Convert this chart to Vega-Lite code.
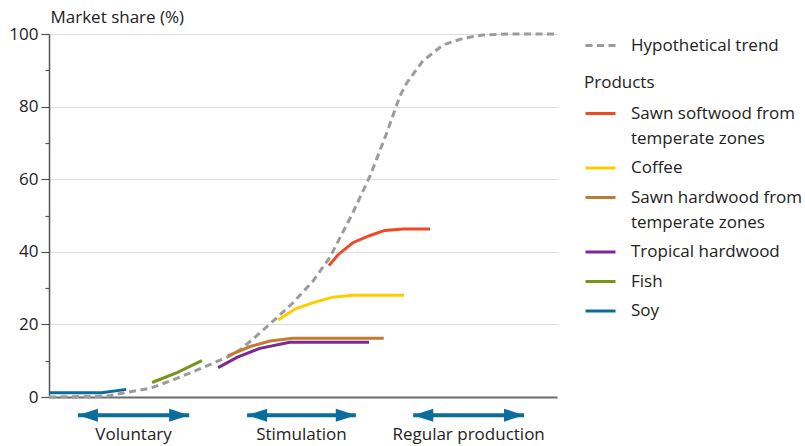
{
  "$schema": "https://vega.github.io/schema/vega-lite/v6.json",
  "width": 508,
  "height": 363,
  "autosize": "none",
  "padding": {"left": 49, "top": 34, "right": 248, "bottom": 49},
  "background": "white",
  "config": {
    "view": {"stroke": null},
    "font": "Open Sans",
    "axis": {"labelFont": "Open Sans", "titleFont": "Open Sans"},
    "legend": {"labelFont": "Open Sans", "titleFont": "Open Sans"},
    "style": {"guide-label": {"lineHeight": 25}}
  },
  "datasets": {
    "trend": [
      {"t": 0.0, "share": 0.0}, {"t": 11.4, "share": 0.2}, {"t": 14.6, "share": 1.1},
      {"t": 19.9, "share": 2.4}, {"t": 24.4, "share": 4.7}, {"t": 29.1, "share": 7.4},
      {"t": 33.1, "share": 9.8}, {"t": 35.0, "share": 10.9}, {"t": 37.6, "share": 13.0},
      {"t": 40.2, "share": 16.0}, {"t": 44.1, "share": 20.9}, {"t": 48.0, "share": 25.9},
      {"t": 52.0, "share": 32.0}, {"t": 55.3, "share": 38.5}, {"t": 59.8, "share": 50.7},
      {"t": 63.2, "share": 60.9}, {"t": 66.5, "share": 72.8}, {"t": 69.1, "share": 83.0},
      {"t": 70.5, "share": 86.7}, {"t": 73.6, "share": 92.6}, {"t": 77.6, "share": 97.0},
      {"t": 81.5, "share": 98.8}, {"t": 85.4, "share": 99.7}, {"t": 90.2, "share": 100},
      {"t": 100, "share": 100}
    ],
    "products": [
      {"product": "Soy", "t": 0.0, "share": 1.2},
      {"product": "Soy", "t": 10.4, "share": 1.2},
      {"product": "Soy", "t": 15.2, "share": 2.1},
      {"product": "Fish", "t": 20.3, "share": 4.0},
      {"product": "Fish", "t": 25.2, "share": 6.7},
      {"product": "Fish", "t": 30.1, "share": 10.0},
      {"product": "Tropical hardwood", "t": 33.3, "share": 8.1},
      {"product": "Tropical hardwood", "t": 37.0, "share": 10.9},
      {"product": "Tropical hardwood", "t": 41.5, "share": 13.4},
      {"product": "Tropical hardwood", "t": 47.4, "share": 15.1},
      {"product": "Tropical hardwood", "t": 63.0, "share": 15.1},
      {"product": "Sawn hardwood from temperate zones", "t": 35.2, "share": 11.3},
      {"product": "Sawn hardwood from temperate zones", "t": 39.6, "share": 13.9},
      {"product": "Sawn hardwood from temperate zones", "t": 43.5, "share": 15.4},
      {"product": "Sawn hardwood from temperate zones", "t": 48.0, "share": 16.2},
      {"product": "Sawn hardwood from temperate zones", "t": 65.9, "share": 16.2},
      {"product": "Coffee", "t": 45.1, "share": 21.2},
      {"product": "Coffee", "t": 48.4, "share": 24.2},
      {"product": "Coffee", "t": 52.0, "share": 26.0},
      {"product": "Coffee", "t": 55.9, "share": 27.5},
      {"product": "Coffee", "t": 59.8, "share": 28.0},
      {"product": "Coffee", "t": 69.9, "share": 28.0},
      {"product": "Sawn softwood from temperate zones", "t": 55.1, "share": 36.2},
      {"product": "Sawn softwood from temperate zones", "t": 56.9, "share": 39.2},
      {"product": "Sawn softwood from temperate zones", "t": 59.8, "share": 42.5},
      {"product": "Sawn softwood from temperate zones", "t": 63.2, "share": 44.5},
      {"product": "Sawn softwood from temperate zones", "t": 66.1, "share": 45.9},
      {"product": "Sawn softwood from temperate zones", "t": 69.7, "share": 46.3},
      {"product": "Sawn softwood from temperate zones", "t": 75.0, "share": 46.3}
    ],
    "phases": [
      {"phase": "Voluntary", "start": 5.7, "end": 27.6, "mid": 16.65},
      {"phase": "Stimulation", "start": 39.0, "end": 60.4, "mid": 49.7},
      {"phase": "Regular production", "start": 71.7, "end": 93.5, "mid": 82.6}
    ]
  },
  "layer": [
    {
      "data": {"name": "trend"},
      "mark": {"type": "line", "strokeWidth": 3, "strokeDash": [7, 4.5]},
      "encoding": {
        "x": {"field": "t", "type": "quantitative",
              "scale": {"domain": [0, 100], "nice": false, "zero": false},
              "axis": {"title": null, "labels": false, "ticks": false, "grid": false,
                       "domain": true, "domainColor": "#6b6b6b", "domainWidth": 2}},
        "y": {"field": "share", "type": "quantitative",
              "scale": {"domain": [0, 100], "nice": false},
              "axis": {"orient": "left", "values": [0, 20, 40, 60, 80, 100], "grid": true, "gridColor": "#dddddd",
                       "gridWidth": 1.2, "tickSize": 8, "tickColor": "#555555", "tickWidth": 1.2,
                       "domainColor": "#555555", "domainWidth": 1.5,
                       "labelFontSize": 17, "labelColor": "#222222", "labelPadding": 3,
                       "title": "Market share (%)", "titleAngle": 0, "titleAlign": "left",
                       "titleBaseline": "alphabetic", "titleX": 1, "titleY": -12,
                       "titleFontSize": 17, "titleFontWeight": "normal", "titleColor": "#222222"}},
        "color": {"field": "series", "type": "nominal", "datum": "Hypothetical trend",
                  "scale": {"domain": ["Hypothetical trend"], "range": ["#9b9b9d"]},
                  "legend": {"title": null, "orient": "none", "legendX": 535, "legendY": -5,
                             "symbolType": "stroke", "symbolSize": 900, "symbolStrokeWidth": 3,
                             "symbolDash": [7, 4.5], "labelFontSize": 17, "labelColor": "#222222",
                             "labelOffset": 14, "labelLimit": 220}}
      }
    },
    {
      "data": {"name": "products"},
      "mark": {"type": "line", "strokeWidth": 3},
      "encoding": {
        "x": {"field": "t", "type": "quantitative"},
        "y": {"field": "share", "type": "quantitative",
              "axis": {"orient": "left", "values": [10, 30, 50, 70, 90], "labels": false, "grid": false,
                       "domain": false, "tickSize": 4, "tickColor": "#555555", "tickWidth": 1.2,
                       "title": null}},
        "stroke": {"field": "product", "type": "nominal",
                   "scale": {"domain": ["Sawn softwood from temperate zones", "Coffee",
                                        "Sawn hardwood from temperate zones", "Tropical hardwood",
                                        "Fish", "Soy"],
                             "range": ["#f04a24", "#ffcc00", "#c27b32", "#7d2a8f", "#76941e", "#0b6c9e"]},
                   "legend": {"title": "Products", "orient": "none", "legendX": 535, "legendY": 41,
                              "titleFontSize": 17, "titleFontWeight": "normal", "titleColor": "#222222",
                              "titlePadding": 5,
                              "symbolType": "stroke", "symbolSize": 900, "symbolStrokeWidth": 3,
                              "labelFontSize": 17, "labelColor": "#222222", "labelOffset": 14,
                              "labelLimit": 220,
                              "rowPadding": 4.5, "labelBaseline": "middle",
                              "labelExpr": "split(replace(datum.label, 'from ', 'from|'), '|')"}}
      }
    },
    {
      "data": {"name": "phases"},
      "mark": {"type": "rule", "strokeWidth": 4, "color": "#0b6c9e"},
      "encoding": {
        "x": {"field": "start", "type": "quantitative"},
        "x2": {"field": "end"},
        "y": {"datum": -5, "axis": null}
      }
    },
    {
      "data": {"name": "phases"},
      "mark": {"type": "point", "filled": true, "opacity": 1, "color": "#0b6c9e", "size": 400,
               "shape": "M0,0L2,-0.65L2,0.65Z"},
      "encoding": {
        "x": {"field": "start", "type": "quantitative"},
        "y": {"datum": -5, "axis": null}
      }
    },
    {
      "data": {"name": "phases"},
      "mark": {"type": "point", "filled": true, "opacity": 1, "color": "#0b6c9e", "size": 400,
               "shape": "M0,0L-2,-0.65L-2,0.65Z"},
      "encoding": {
        "x": {"field": "end", "type": "quantitative"},
        "y": {"datum": -5, "axis": null}
      }
    },
    {
      "data": {"name": "phases"},
      "mark": {"type": "text", "fontSize": 17, "color": "#222222", "baseline": "alphabetic", "align": "center"},
      "encoding": {
        "x": {"field": "mid", "type": "quantitative"},
        "y": {"datum": -11.9, "axis": null},
        "text": {"field": "phase"}
      }
    }
  ],
  "resolve": {"scale": {"color": "independent"}, "axis": {"y": "independent"}}
}
